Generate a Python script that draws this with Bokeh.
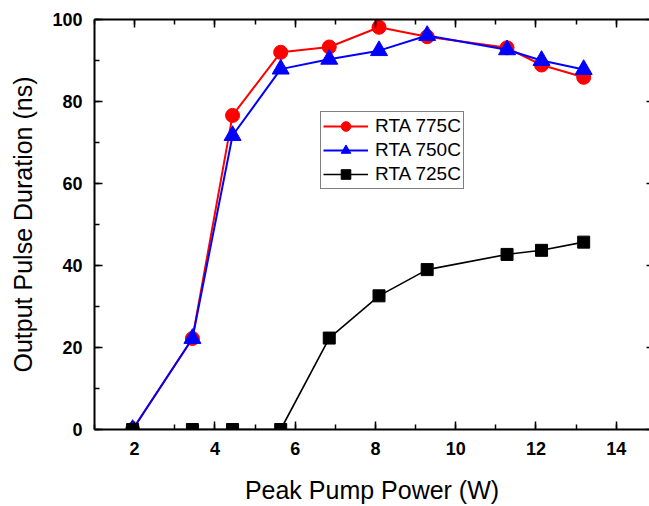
from bokeh.plotting import figure
from bokeh.models import (LinearAxis, SingleIntervalTicker, Range1d, Legend, LegendItem,
                          CustomJSTickFormatter)
from bokeh.embed import file_html
from bokeh.resources import INLINE

# data
power = [1.95, 3.44, 4.44, 5.64, 6.85, 8.09, 9.29, 11.28, 12.14, 13.19]
rta775 = [0, 22.2, 76.6, 92.0, 93.3, 98.1, 95.8, 93.1, 88.9, 85.9]
rta750 = [0, 22.2, 71.7, 87.9, 90.3, 92.4, 96.1, 92.6, 90.0, 87.8]
rta725 = [0, 0, 0, 0, 22.3, 32.6, 39.0, 42.7, 43.7, 45.7]
labels = ["RTA 775C", "RTA 750C", "RTA 725C"]

FONT = "Liberation Sans"

p = figure(width=649, height=506, output_backend="svg", toolbar_location=None,
           x_range=Range1d(1, 14.83), y_range=Range1d(0, 100),
           min_border_left=94, min_border_right=0, min_border_top=19, min_border_bottom=76,
           x_axis_location=None, y_axis_location=None)
p.grid.visible = False
p.outline_line_color = None
p.background_fill_color = "white"
p.border_fill_color = "white"

def style_axis(ax, ticker, label_visible=True):
    ax.ticker = ticker
    ax.axis_line_width = 2
    ax.axis_line_color = "black"
    ax.major_tick_line_width = 1.5
    ax.minor_tick_line_width = 1.5
    ax.major_tick_in = 8
    ax.major_tick_out = 0
    ax.minor_tick_in = 5
    ax.minor_tick_out = 0
    ax.major_label_text_font = FONT
    ax.major_label_text_font_style = "bold"
    ax.major_label_text_font_size = "18px"
    ax.major_label_text_color = "black"
    ax.axis_label_text_font = FONT
    ax.axis_label_text_font_style = "normal"
    ax.axis_label_text_font_size = "25px"
    ax.axis_label_text_color = "black"
    if not label_visible:
        ax.formatter = CustomJSTickFormatter(code="return ''")
        ax.major_label_text_font_size = "1px"
        ax.major_label_standoff = 0
        ax.axis_label_standoff = 0

xt = lambda: SingleIntervalTicker(interval=2, num_minor_ticks=2)
yt = lambda: SingleIntervalTicker(interval=20, num_minor_ticks=2)

xb = LinearAxis(axis_label="Peak Pump Power (W)")
style_axis(xb, xt())
xb.major_label_standoff = 12
xb.axis_label_standoff = 18
p.add_layout(xb, "below")

yl = LinearAxis(axis_label="Output Pulse Duration (ns)")
style_axis(yl, yt())
yl.major_label_standoff = 12
yl.axis_label_standoff = 12
p.add_layout(yl, "left")

xtop = LinearAxis()
style_axis(xtop, xt(), label_visible=False)
p.add_layout(xtop, "above")

yr = LinearAxis()
style_axis(yr, yt(), label_visible=False)
yr.axis_line_color = None
yr.major_tick_in = 3
yr.minor_tick_in = 0
p.add_layout(yr, "right")

r_line = p.line(power, rta775, line_color="#ff0000", line_width=2)
r_mark = p.scatter(power, rta775, marker="circle", size=14, fill_color="#ff0000", line_color="#ff0000")
b_line = p.line(power, rta750, line_color="#0000ff", line_width=2)
b_mark = p.scatter(power, rta750, marker="triangle", size=17, fill_color="#0000ff", line_color="#0000ff")
k_line = p.line(power, rta725, line_color="black", line_width=1.6)
k_mark = p.scatter(power, rta725, marker="square", size=12, fill_color="black", line_color="black")

legend = Legend(items=[
    LegendItem(label=labels[0], renderers=[r_line, r_mark]),
    LegendItem(label=labels[1], renderers=[b_line, b_mark]),
    LegendItem(label=labels[2], renderers=[k_line, k_mark]),
], location=(226, 240))
legend.border_line_color = "black"
legend.border_line_width = 1
legend.background_fill_color = "white"
legend.background_fill_alpha = 1
legend.padding = 2
legend.spacing = 0
legend.glyph_width = 45
legend.glyph_height = 24
legend.label_height = 21
legend.label_standoff = 7
legend.label_text_font = FONT
legend.label_text_font_size = "19px"
legend.label_text_color = "black"
legend.margin = 0
p.add_layout(legend, "center")

open("out.html", "w").write(file_html(p, INLINE))
